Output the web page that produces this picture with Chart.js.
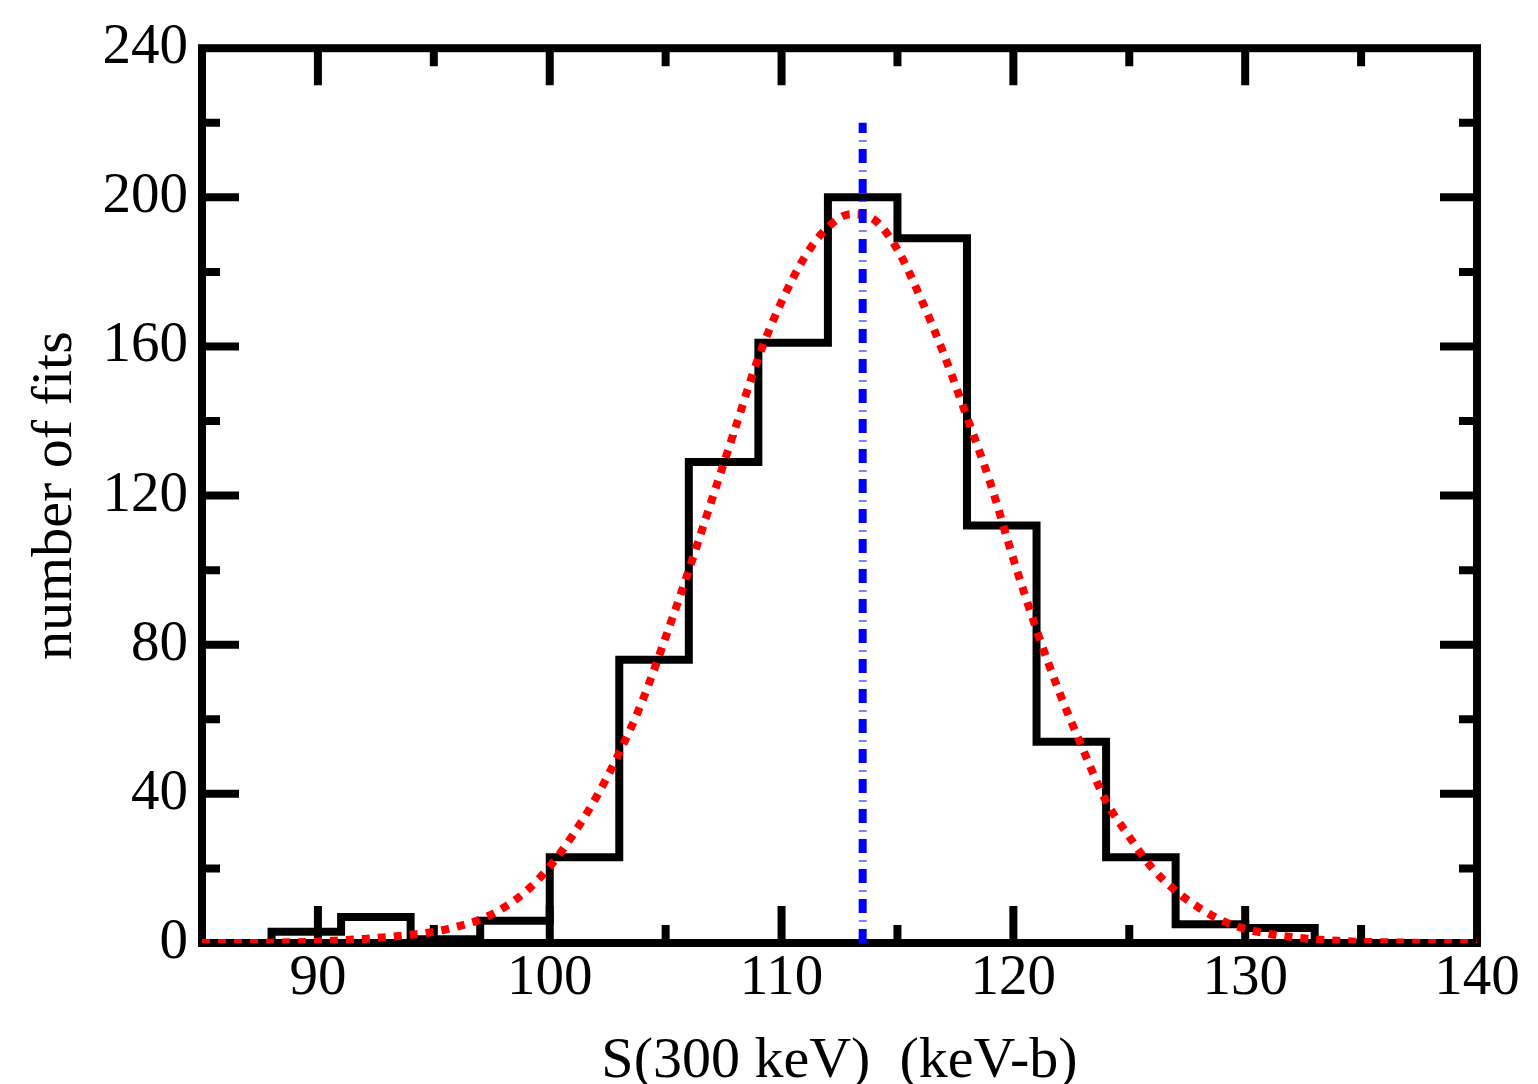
<!DOCTYPE html>
<html>
<head>
<meta charset="utf-8">
<script src="https://cdn.jsdelivr.net/npm/chart.js@4.4.1/dist/chart.umd.min.js"></script>
<style>
html,body{margin:0;padding:0;background:#fff;}
canvas{display:block;}
</style>
</head>
<body>
<canvas id="c" width="1538" height="1084"></canvas>
<script>
// ---- data ----
const binEdges = [88,91,94,97,100,103,106,109,112,115,118,121,124,127,130,133];
const binCounts = [3,7,1,6,23,76,129,161,200,189,112,54,23,5,4];

const curveX = [85,86,87,88,89,90,91,92,93,94,95,96,97,98,99,100,101,102,103,104,105,106,107,108,109,110,
  111,112,113,114,115,116,117,118,119,120,121,122,123,124,125,126,127,128,129,130,131,132,133,134,135,136,137,138,139,140];
const curveY = [0,0,0,0.1,0.2,0.4,0.7,1.1,1.6,2.2,3.0,4.4,6.3,9.4,14,20.5,29,39,51,65,82,100,119,138,157,172,
  184,192,195.5,194,186,173,158,141,123.5,103,84,67,52,38,28.5,20,14,9.5,6,3.8,2.5,1.6,1.0,0.6,0.3,0.2,0.1,0,0,0];

const meanX = 113.5;
const meanLineY = [0, 220];

const xMajorTicks = [90,100,110,120,130,140];
const xMinorTicks = [95,105,115,125,135];
const yMajorTicks = [0,40,80,120,160,200,240];
const yMinorTicks = [20,60,100,140,180,220];

const xTitle = 'S(300 keV)  (keV-b)';
const yTitle = 'number of fits';

// ---- build datasets ----
const histPts = [{x: binEdges[0], y: 0}];
for (let i = 0; i < binCounts.length; i++) histPts.push({x: binEdges[i], y: binCounts[i]});
histPts.push({x: binEdges[binEdges.length - 1], y: 0});

const curvePts = curveX.map((x, i) => ({x: x, y: curveY[i]}));
const meanPts = meanLineY.map(y => ({x: meanX, y: y}));

const FONT = '"Liberation Serif", "Times New Roman", serif';

const framePlugin = {
  id: 'frame',
  beforeDatasetsDraw(chart) {
    const {ctx, chartArea: a, scales: {x, y}} = chart;
    ctx.save();
    ctx.strokeStyle = '#000';
    ctx.lineCap = 'butt';
    ctx.lineWidth = 8;
    const major = 37, minor = 18;
    ctx.beginPath();
    xMajorTicks.concat(xMinorTicks).forEach(v => {
      const L = xMajorTicks.includes(v) ? major : minor;
      const px = x.getPixelForValue(v);
      if (px > a.right - 2) return;
      ctx.moveTo(px, a.bottom); ctx.lineTo(px, a.bottom - L);
      ctx.moveTo(px, a.top); ctx.lineTo(px, a.top + L);
    });
    yMajorTicks.concat(yMinorTicks).forEach(v => {
      const L = yMajorTicks.includes(v) ? major : minor;
      const py = y.getPixelForValue(v);
      if (py < a.top + 2 || py > a.bottom - 2) return;
      ctx.moveTo(a.left, py); ctx.lineTo(a.left + L, py);
      ctx.moveTo(a.right, py); ctx.lineTo(a.right - L, py);
    });
    ctx.stroke();
    ctx.lineWidth = 8;
    ctx.lineJoin = 'miter';
    ctx.strokeRect(a.left, a.top, a.right - a.left, a.bottom - a.top);
    ctx.restore();
  },
  afterDraw(chart) {
    const {ctx, chartArea: a} = chart;
    ctx.save();
    ctx.fillStyle = '#000';
    ctx.font = '58px ' + FONT;
    ctx.textAlign = 'center';
    ctx.textBaseline = 'alphabetic';
    ctx.fillText(xTitle, (a.left + a.right) / 2, 1077);
    ctx.translate(71, (a.top + a.bottom) / 2);
    ctx.rotate(-Math.PI / 2);
    ctx.fillText(yTitle, 0, 0);
    ctx.restore();
  }
};

new Chart(document.getElementById('c'), {
  type: 'line',
  data: {
    datasets: [
      {
        label: 'mean',
        data: meanPts,
        borderColor: '#0000ff',
        borderWidth: 8,
        borderDash: [14, 7.5, 1, 7.5],
        borderCapStyle: 'butt',
        pointRadius: 0,
        fill: false,
        order: 0
      },
      {
        label: 'fit',
        data: curvePts,
        borderColor: '#ff0000',
        borderWidth: 8,
        borderDash: [8, 8],
        borderCapStyle: 'butt',
        cubicInterpolationMode: 'monotone',
        pointRadius: 0,
        fill: false,
        order: 1
      },
      {
        label: 'histogram',
        data: histPts,
        borderColor: '#000',
        borderWidth: 8,
        stepped: 'before',
        borderJoinStyle: 'miter',
        pointRadius: 0,
        fill: false,
        order: 2
      }
    ]
  },
  options: {
    responsive: false,
    animation: false,
    devicePixelRatio: 1,
    layout: {padding: {top: 43, right: 61, left: 0, bottom: 0}},
    plugins: {legend: {display: false}, tooltip: {enabled: false}},
    scales: {
      x: {
        type: 'linear',
        min: 85, max: 140,
        afterBuildTicks(s) { s.ticks = xMajorTicks.map(v => ({value: v})); },
        afterFit(s) { s.height = 141; },
        grid: {display: false, drawTicks: false},
        border: {display: false},
        ticks: {color: '#000', font: {family: FONT, size: 57}, padding: 2, maxRotation: 0, autoSkip: false}
      },
      y: {
        type: 'linear',
        min: 0, max: 240,
        afterBuildTicks(s) { s.ticks = yMajorTicks.map(v => ({value: v})); },
        afterFit(s) { s.width = 202; },
        grid: {display: false, drawTicks: false},
        border: {display: false},
        ticks: {color: '#000', font: {family: FONT, size: 57}, padding: 14, autoSkip: false}
      }
    }
  },
  plugins: [framePlugin]
});
</script>
</body>
</html>
